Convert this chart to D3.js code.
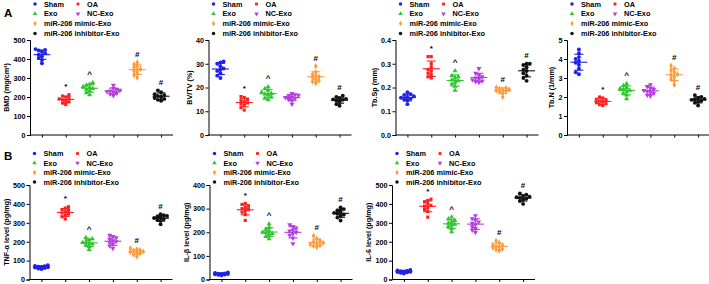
<!DOCTYPE html>
<html>
<head>
<meta charset="utf-8">
<script src="https://cdn.jsdelivr.net/npm/d3@7"></script>
<style>
  body { margin: 0; background: #fff; }
  svg { display: block; font-family: "Liberation Sans", Arial, sans-serif; font-weight: bold; }
</style>
</head>
<body>
<div id="chart"></div>
<script>
// groups shown in every panel
const groups = ['Sham', 'OA', 'Exo', 'NC-Exo', 'miR-206 mimic-Exo', 'miR-206 inhibitor-Exo'];
const groupColors = ['#1f22e8', '#ff1f1f', '#2ec62e', '#b43ee0', '#ff9a3a', '#111111'];
// significance marks above each group
const signif = ['', '*', '^', '', '#', '#'];

// panel A
const bmd = [
  [452, 448, 445, 438, 430, 422, 415, 405, 395, 378],
  [212, 205, 200, 195, 190, 185, 180, 175, 168, 160],
  [275, 268, 262, 255, 250, 245, 240, 232, 222, 212],
  [262, 245, 240, 236, 232, 228, 225, 220, 215, 208],
  [382, 372, 362, 355, 348, 342, 335, 325, 315, 302],
  [235, 225, 215, 210, 205, 200, 195, 190, 185, 180]
];
const bvtv = [
  [31, 30.5, 30, 29, 28, 27.5, 27, 26, 25, 24],
  [16.2, 15.8, 15, 14.5, 14, 13.5, 13, 12.5, 11.5, 10.5],
  [20.3, 19.5, 18.8, 18, 17.5, 17.2, 16.8, 16, 15.5, 14.8],
  [17.5, 17, 16.8, 16.5, 16, 15.8, 15.5, 15, 14.5, 13],
  [29, 26.5, 25.5, 25, 24.5, 24, 23.5, 23, 22.5, 21.8],
  [16.5, 16, 15.5, 15.2, 15, 14.8, 14.5, 14, 13, 12.3]
];
const tbsp = [
  [0.18, 0.172, 0.168, 0.163, 0.16, 0.157, 0.153, 0.15, 0.145, 0.13],
  [0.33, 0.33, 0.3, 0.285, 0.275, 0.27, 0.26, 0.255, 0.245, 0.24],
  [0.27, 0.25, 0.245, 0.24, 0.232, 0.228, 0.222, 0.215, 0.205, 0.188],
  [0.28, 0.26, 0.252, 0.245, 0.24, 0.236, 0.232, 0.228, 0.225, 0.222],
  [0.2, 0.198, 0.195, 0.192, 0.19, 0.188, 0.185, 0.182, 0.175, 0.16],
  [0.3, 0.3, 0.295, 0.285, 0.275, 0.27, 0.26, 0.25, 0.24, 0.228]
];
const tbn = [
  [4.5, 4.3, 4.1, 4.0, 3.9, 3.8, 3.7, 3.5, 3.3, 3.2],
  [2.0, 1.95, 1.88, 1.82, 1.78, 1.75, 1.7, 1.65, 1.6, 1.55],
  [2.7, 2.6, 2.5, 2.45, 2.4, 2.35, 2.3, 2.2, 2.1, 1.9],
  [2.65, 2.55, 2.45, 2.4, 2.35, 2.3, 2.25, 2.2, 2.1, 2.05],
  [3.65, 3.5, 3.4, 3.3, 3.2, 3.15, 3.05, 2.95, 2.85, 2.65],
  [2.1, 2.0, 1.95, 1.9, 1.88, 1.85, 1.8, 1.75, 1.7, 1.55]
];
// panel B
const tnf = [
  [75, 72, 70, 68, 66, 65, 63, 61, 58, 55],
  [385, 378, 370, 365, 358, 352, 346, 340, 332, 320],
  [222, 215, 210, 200, 195, 192, 188, 182, 175, 158],
  [235, 228, 220, 212, 205, 200, 195, 188, 178, 165],
  [165, 160, 155, 152, 148, 145, 142, 138, 132, 122],
  [345, 340, 336, 332, 328, 325, 320, 315, 310, 292]
];
const il1b = [
  [30, 28, 26, 25, 24, 23, 22, 21, 20, 18],
  [322, 318, 310, 305, 300, 296, 290, 285, 275, 250],
  [235, 220, 212, 205, 200, 198, 195, 190, 182, 172],
  [232, 225, 215, 210, 205, 200, 195, 188, 175, 152],
  [185, 172, 165, 160, 155, 152, 148, 145, 142, 138],
  [305, 298, 292, 288, 282, 278, 275, 270, 262, 250]
];
const il6 = [
  [50, 48, 46, 44, 42, 41, 40, 38, 36, 32],
  [425, 418, 410, 400, 392, 388, 380, 370, 360, 330],
  [330, 320, 312, 305, 298, 292, 288, 280, 270, 252],
  [338, 322, 315, 305, 298, 290, 280, 270, 262, 250],
  [205, 195, 185, 180, 175, 172, 168, 162, 158, 152],
  [455, 448, 442, 438, 435, 432, 428, 422, 415, 400]
];

// axis titles and tick values
const titles = ['BMD (mg/cm³)', 'BV/TV (%)', 'Tb.Sp (mm)', 'Tb.N (1/mm)',
  'TNF-α level (pg/mg)', 'IL-β level (pg/mg)', 'IL-6 level (pg/mg)'];
const tickSets = [
  [0, 100, 200, 300, 400, 500],
  [0, 10, 20, 30, 40],
  [0, 0.1, 0.2, 0.3, 0.4],
  [0, 1, 2, 3, 4, 5],
  [0, 100, 200, 300, 400, 500],
  [0, 100, 200, 300, 400],
  [0, 100, 200, 300, 400, 500]
];
const datasets = [bmd, bvtv, tbsp, tbn, tnf, il1b, il6];

// layout of each panel (axis left edge, top, bottom)
const panels = [
  { x0: 30, top: 40, bottom: 135, fmt: d3.format('d') },
  { x0: 208.5, top: 40, bottom: 135, fmt: d3.format('d') },
  { x0: 395.5, top: 40, bottom: 135, fmt: d3.format('.1f') },
  { x0: 567, top: 40, bottom: 135, fmt: d3.format('d') },
  { x0: 29.5, top: 185, bottom: 279.5, fmt: d3.format('d') },
  { x0: 209.5, top: 185, bottom: 279.5, fmt: d3.format('d') },
  { x0: 392, top: 185, bottom: 279.5, fmt: d3.format('d') }
];
const plotWidth = 143;

const symbols = [d3.symbolCircle, d3.symbolSquare, d3.symbolTriangle, d3.symbolTriangle, d3.symbolDiamond, d3.symbolCircle];
const symbolSize = [12, 10, 11, 11, 11, 12];

const svg = d3.select('#chart').append('svg')
  .attr('width', 709)
  .attr('height', 284);

// panel letters
svg.append('text').attr('x', 4).attr('y', 16.7).attr('font-size', 11.5).text('A');
svg.append('text').attr('x', 4).attr('y', 160).attr('font-size', 11.5).text('B');

// simple beeswarm so overlapping dots sit side by side (spread kept narrow)
function swarm(values, y, d) {
  const placed = [];
  const order = values.map((v, i) => i).sort((a, b) => values[a] - values[b]);
  const offsets = new Array(values.length);
  const candidates = [0, -1, 1, -2, 2].map(k => k * d);
  order.forEach(i => {
    const py = y(values[i]);
    let best = 0, bestDist = -1;
    for (const c of candidates) {
      const dist = placed.length ? d3.min(placed, p => Math.hypot(p[0] - c, p[1] - py)) : Infinity;
      if (dist >= d) { best = c; bestDist = dist; break; }
      if (dist > bestDist) { best = c; bestDist = dist; }
    }
    offsets[i] = best;
    placed.push([best, py]);
  });
  return offsets;
}

datasets.forEach((data, pi) => {
  const p = panels[pi];
  const ticks = tickSets[pi];
  const g = svg.append('g').attr('transform', `translate(${p.x0},0)`);

  const x = d3.scalePoint().domain(groups).range([0, plotWidth]).padding(0.5);
  const y = d3.scaleLinear().domain([0, d3.max(ticks)]).range([p.bottom, p.top]);

  // y axis
  const yAxisG = g.append('g')
    .call(d3.axisLeft(y).tickValues(ticks).tickFormat(p.fmt).tickSize(3).tickPadding(1.5))
    .call(a => a.selectAll('text').attr('font-size', 7.2).attr('font-weight', 'bold').attr('fill', '#000'))
    .call(a => a.select('.domain').attr('stroke-width', 1));
  yAxisG.attr('font-family', null);

  // x axis: no labels, just ticks
  g.append('g')
    .attr('transform', `translate(0,${p.bottom})`)
    .call(d3.axisBottom(x).tickSize(2.5).tickFormat(''))
    .call(a => a.select('.domain').attr('d', `M0,0H${plotWidth}`));

  // y axis title placed left of the tick labels
  const labelLeft = d3.min(yAxisG.selectAll('text').nodes(), n => n.getBBox().x);
  g.append('text')
    .attr('transform', `translate(${labelLeft - 4.5},${(p.top + p.bottom) / 2}) rotate(-90)`)
    .attr('text-anchor', 'middle')
    .attr('font-size', 7.2)
    .text(titles[pi]);

  // groups
  data.forEach((vals, gi) => {
    const cx = x(groups[gi]);
    const color = groupColors[gi];
    const offs = swarm(vals, y, 3.2);
    const sym = d3.symbol().type(symbols[gi]).size(symbolSize[gi]);

    g.append('g').selectAll('path')
      .data(vals)
      .join('path')
      .attr('d', sym)
      .attr('transform', (v, i) => `translate(${cx + offs[i]},${y(v)})` + (gi === 3 ? ' rotate(180)' : ''))
      .attr('fill', color);

    const m = d3.mean(vals);
    const sd = d3.deviation(vals);
    const lines = g.append('g').attr('stroke', color).attr('stroke-width', 1.1);
    lines.append('line').attr('x1', cx - 8.5).attr('x2', cx + 8.5).attr('y1', y(m)).attr('y2', y(m));
    lines.append('line').attr('x1', cx).attr('x2', cx).attr('y1', y(m - sd)).attr('y2', y(m + sd));
    lines.append('line').attr('x1', cx - 4.5).attr('x2', cx + 4.5).attr('y1', y(m - sd)).attr('y2', y(m - sd));
    lines.append('line').attr('x1', cx - 4.5).attr('x2', cx + 4.5).attr('y1', y(m + sd)).attr('y2', y(m + sd));

    if (signif[gi]) {
      g.append('text')
        .attr('x', cx)
        .attr('y', y(d3.max(vals)) - 5.5)
        .attr('text-anchor', 'middle')
        .attr('font-size', 8)
        .text(signif[gi]);
    }
  });

  // legend above the plot
  const rowY = pi < 4 ? [4, 13.8, 23.6, 33.4] : [153.5, 163, 172.5, 182];
  const legendPos = [[0, 0], [1, 0], [0, 1], [1, 1], [0, 2], [0, 3]];
  groups.forEach((name, gi) => {
    const [col, row] = legendPos[gi];
    const lx = col === 0 ? 5 : 48;
    const sym = d3.symbol().type(symbols[gi]).size(symbolSize[gi] * 0.8);
    g.append('path')
      .attr('d', sym)
      .attr('transform', `translate(${lx},${rowY[row]})` + (gi === 3 ? ' rotate(180)' : ''))
      .attr('fill', groupColors[gi]);
    g.append('text')
      .attr('x', lx + 9)
      .attr('y', rowY[row])
      .attr('dy', '0.35em')
      .attr('font-size', 7.3)
      .text(name);
  });
});
</script>
</body>
</html>
